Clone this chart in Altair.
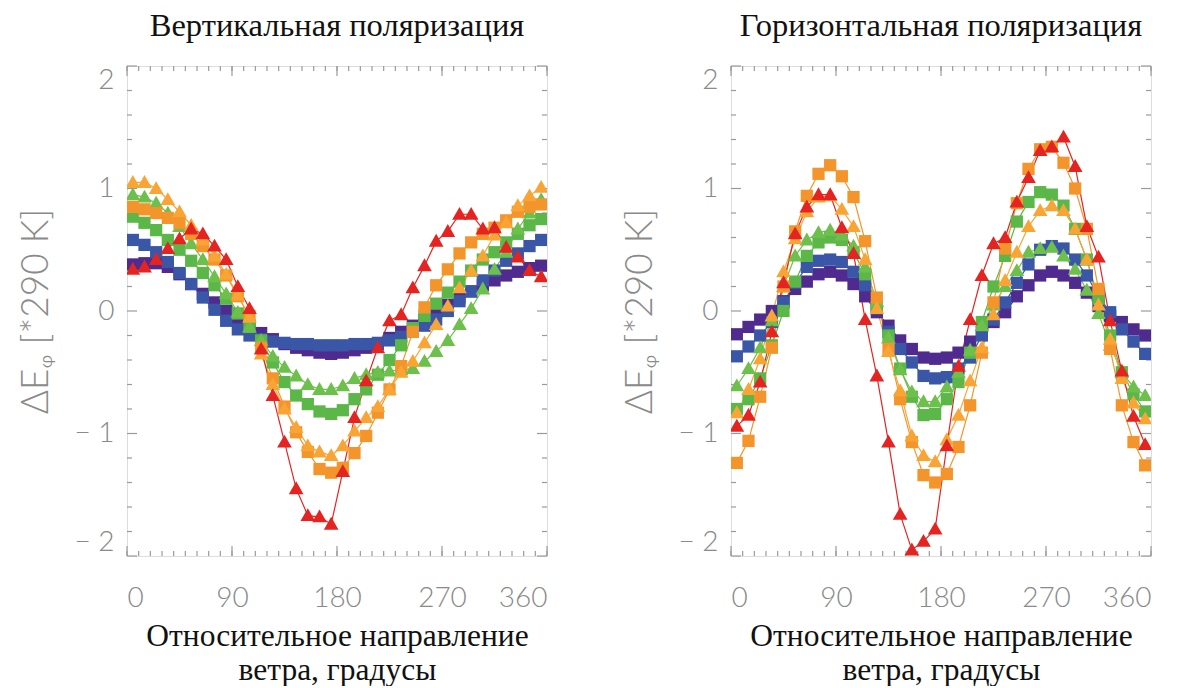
import altair as alt
import pandas as pd

# wind direction bins (degrees)
deg = [5, 15, 25, 35, 45, 55, 65, 75, 85, 95, 105, 115, 125, 135, 145, 155, 165, 175,
       185, 195, 205, 215, 225, 235, 245, 255, 265, 275, 285, 295, 305, 315, 325, 335, 345, 355]

series = ["s1", "s2", "s3", "s4", "s5", "s6", "s7"]
colors = ["#4F2B8F", "#3A57A7", "#5BB848", "#6DC04C", "#F4952C", "#F8A535", "#E42421"]
TRI = "M0,-1.2L1.2,0.9L-1.2,0.9Z"
shapes = ["square", "square", "square", TRI, "square", TRI, TRI]

# ---- vertical polarisation ----
v_s1 = [0.38, 0.39, 0.39, 0.36, 0.30, 0.22, 0.14, 0.07, 0.00, -0.06, -0.12, -0.18, -0.23, -0.27, -0.30, -0.32, -0.34, -0.35,
        -0.34, -0.32, -0.30, -0.27, -0.22, -0.17, -0.12, -0.07, -0.01, 0.05, 0.11, 0.16, 0.21, 0.25, 0.29, 0.32, 0.35, 0.37]
v_s2 = [0.58, 0.54, 0.48, 0.40, 0.31, 0.22, 0.11, 0.01, -0.08, -0.15, -0.20, -0.23, -0.25, -0.26, -0.27, -0.27, -0.28, -0.28,
        -0.28, -0.27, -0.27, -0.26, -0.24, -0.21, -0.17, -0.12, -0.07, 0.00, 0.08, 0.16, 0.25, 0.33, 0.41, 0.47, 0.53, 0.58]
v_s3 = [0.77, 0.72, 0.66, 0.58, 0.50, 0.41, 0.31, 0.21, 0.10, -0.02, -0.13, -0.24, -0.42, -0.58, -0.69, -0.76, -0.82, -0.84,
        -0.81, -0.72, -0.64, -0.52, -0.40, -0.28, -0.14, -0.04, 0.06, 0.15, 0.24, 0.33, 0.42, 0.48, 0.56, 0.63, 0.70, 0.75]
v_s4 = [0.95, 0.93, 0.88, 0.80, 0.69, 0.55, 0.42, 0.28, 0.14, -0.01, -0.13, -0.24, -0.37, -0.46, -0.53, -0.60, -0.64, -0.64,
        -0.61, -0.55, -0.52, -0.50, -0.49, -0.48, -0.47, -0.41, -0.33, -0.24, -0.11, 0.02, 0.18, 0.34, 0.48, 0.67, 0.80, 0.91]
v_s5 = [0.85, 0.83, 0.80, 0.76, 0.72, 0.63, 0.53, 0.42, 0.29, 0.12, -0.04, -0.30, -0.55, -0.78, -0.99, -1.15, -1.29, -1.32,
        -1.28, -1.16, -1.02, -0.83, -0.64, -0.45, -0.17, 0.03, 0.21, 0.34, 0.47, 0.56, 0.63, 0.68, 0.74, 0.81, 0.85, 0.87]
v_s6 = [1.05, 1.05, 1.00, 0.91, 0.81, 0.70, 0.58, 0.45, 0.30, 0.13, -0.05, -0.35, -0.60, -0.80, -0.95, -1.10, -1.15, -1.18,
        -1.10, -0.98, -0.87, -0.78, -0.64, -0.50, -0.41, -0.26, -0.11, 0.04, 0.19, 0.33, 0.45, 0.62, 0.72, 0.86, 0.94, 1.01]
v_s7 = [0.34, 0.36, 0.42, 0.51, 0.59, 0.67, 0.63, 0.53, 0.42, 0.20, 0.02, -0.31, -0.69, -1.07, -1.45, -1.67, -1.68, -1.74,
        -1.31, -0.87, -0.57, -0.30, -0.08, -0.03, 0.19, 0.37, 0.57, 0.65, 0.79, 0.79, 0.67, 0.68, 0.52, 0.44, 0.33, 0.28]

# ---- horizontal polarisation ----
h_s1 = [-0.19, -0.13, -0.07, 0.00, 0.08, 0.18, 0.24, 0.30, 0.32, 0.29, 0.22, 0.12, -0.01, -0.12, -0.24, -0.31, -0.38, -0.39,
        -0.38, -0.34, -0.25, -0.17, -0.09, -0.01, 0.12, 0.21, 0.29, 0.32, 0.29, 0.23, 0.15, 0.04, -0.04, -0.09, -0.15, -0.20]
h_s2 = [-0.37, -0.29, -0.20, -0.09, 0.07, 0.23, 0.36, 0.41, 0.42, 0.40, 0.32, 0.21, 0.02, -0.17, -0.31, -0.42, -0.53, -0.55,
        -0.54, -0.47, -0.38, -0.20, -0.07, 0.07, 0.23, 0.38, 0.50, 0.53, 0.51, 0.42, 0.29, 0.12, -0.01, -0.15, -0.25, -0.35]
h_s3 = [-0.80, -0.72, -0.55, -0.28, 0.00, 0.24, 0.45, 0.56, 0.60, 0.58, 0.48, 0.30, 0.03, -0.20, -0.47, -0.70, -0.85, -0.84,
        -0.72, -0.58, -0.34, -0.09, 0.20, 0.45, 0.73, 0.89, 0.97, 0.95, 0.86, 0.67, 0.42, 0.10, -0.20, -0.50, -0.68, -0.82]
h_s4 = [-0.61, -0.47, -0.30, -0.08, 0.20, 0.45, 0.58, 0.64, 0.66, 0.62, 0.53, 0.36, 0.08, -0.22, -0.48, -0.66, -0.74, -0.74,
        -0.62, -0.50, -0.32, -0.12, 0.05, 0.20, 0.33, 0.48, 0.51, 0.52, 0.45, 0.34, 0.17, -0.02, -0.28, -0.50, -0.62, -0.69]
h_s5 = [-1.24, -1.06, -0.70, -0.30, 0.20, 0.65, 0.94, 1.12, 1.19, 1.10, 0.93, 0.57, 0.11, -0.31, -0.72, -1.07, -1.34, -1.40,
        -1.33, -1.11, -0.77, -0.34, 0.07, 0.51, 0.88, 1.16, 1.32, 1.34, 1.21, 1.00, 0.67, 0.18, -0.31, -0.77, -1.07, -1.26]
h_s6 = [-0.83, -0.64, -0.39, -0.04, 0.32, 0.59, 0.81, 0.93, 0.94, 0.83, 0.69, 0.42, 0.02, -0.33, -0.65, -1.02, -1.18, -1.23,
        -1.05, -0.85, -0.57, -0.30, -0.03, 0.25, 0.48, 0.69, 0.82, 0.86, 0.82, 0.67, 0.42, 0.05, -0.23, -0.55, -0.75, -0.88]
h_s7 = [-0.94, -0.85, -0.58, -0.17, 0.23, 0.63, 0.85, 0.95, 0.95, 0.68, 0.47, -0.07, -0.53, -1.07, -1.66, -1.95, -1.88, -1.78,
        -1.10, -0.45, -0.07, 0.29, 0.55, 0.60, 0.89, 1.09, 1.31, 1.34, 1.42, 1.18, 0.69, 0.44, -0.08, -0.49, -0.86, -1.09]

# axis ticks
x_major = [0, 90, 180, 270, 360]
x_minor = [0, 10, 20, 30, 40, 50, 60, 70, 80, 90, 100, 110, 120, 130, 140, 150, 160, 170, 180,
           190, 200, 210, 220, 230, 240, 250, 260, 270, 280, 290, 300, 310, 320, 330, 340, 350, 360]
y_major = [-2, -1, 0, 1, 2]
y_minor = [-1.8, -1.6, -1.4, -1.2, -0.8, -0.6, -0.4, -0.2, 0.2, 0.4, 0.6, 0.8, 1.2, 1.4, 1.6, 1.8]

title_v = "Вертикальная поляризация"
title_h = "Горизонтальная поляризация"
x_title = ["Относительное направление", "ветра, градусы"]
y_title = "ΔEᵩ [*290 K]"

W, H = 420, 490
GRAY = "#9a9a9a"
LABEL = "#8a8a8a"


def long_df(vals):
    rows = []
    for s, v in zip(series, vals):
        for d, y in zip(deg, v):
            rows.append({"deg": d, "val": y, "series": s})
    return pd.DataFrame(rows)


def panel(title, vals):
    df = long_df(vals)
    x_enc = alt.X("deg:Q", scale=alt.Scale(domain=[0, 360], nice=False, zero=False),
                  axis=alt.Axis(values=x_major, ticks=False, domain=False, grid=False,
                                labelFontSize=28, labelColor=LABEL, labelFont="Lato",
                                labelFontWeight=300, labelPadding=28,
                                title=x_title, titleFont="Liberation Serif", titleFontSize=31.5,
                                titleFontWeight="normal", titleColor="#111111",
                                titlePadding=8, titleLineHeight=34))
    y_enc = alt.Y("val:Q", scale=alt.Scale(domain=[-2, 2], nice=False, zero=False),
                  axis=alt.Axis(values=y_major, ticks=False, domain=False, grid=False,
                                labelFlush=True, labelFontSize=28, labelColor=LABEL,
                                labelFont="Lato", labelFontWeight=300, labelPadding=13,
                                labelExpr="datum.value < 0 ? '\u2212 ' + (-datum.value) : '' + datum.value",
                                title=y_title, titleFont="Lato", titleFontSize=37,
                                titleFontWeight=300, titleColor=LABEL, titlePadding=18))
    color = alt.Color("series:N", scale=alt.Scale(domain=series, range=colors), legend=None)
    shape = alt.Shape("series:N", scale=alt.Scale(domain=series, range=shapes), legend=None)

    base = alt.Chart(df)
    lines = base.mark_line(strokeWidth=1.2, clip=True).encode(
        x=x_enc, y=y_enc, color=color, detail="series:N")
    pts = base.mark_point(filled=True, opacity=1, size=150, clip=True).encode(
        x=x_enc, y=y_enc, color=color, shape=shape)

    xmin = pd.DataFrame({"deg": x_minor})
    xmaj = pd.DataFrame({"deg": x_major})
    ymin = pd.DataFrame({"val": y_minor})
    ymaj = pd.DataFrame({"val": y_major})

    def xt(d, ln, top):
        if top:
            return alt.Chart(d).mark_rule(color=GRAY, strokeWidth=1.2).encode(
                x=x_enc, y=alt.value(0), y2=alt.value(ln))
        return alt.Chart(d).mark_rule(color=GRAY, strokeWidth=1.2).encode(
            x=x_enc, y=alt.value(H), y2=alt.value(H - ln))

    def yt(d, ln, right):
        if right:
            return alt.Chart(d).mark_rule(color=GRAY, strokeWidth=1.2).encode(
                y=y_enc, x=alt.value(W), x2=alt.value(W - ln))
        return alt.Chart(d).mark_rule(color=GRAY, strokeWidth=1.2).encode(
            y=y_enc, x=alt.value(0), x2=alt.value(ln))

    ticks = [xt(xmin, 5, False), xt(xmaj, 10, False), xt(xmin, 5, True), xt(xmaj, 10, True),
             yt(ymin, 5, False), yt(ymaj, 10, False), yt(ymin, 5, True), yt(ymaj, 10, True)]

    return alt.layer(*ticks, lines, pts).properties(
        width=W, height=H,
        title=alt.TitleParams(title, font="Liberation Serif", fontSize=32.5, fontWeight="normal",
                              color="#111111", offset=23, anchor="middle"))


chart = alt.hconcat(panel(title_v, [v_s1, v_s2, v_s3, v_s4, v_s5, v_s6, v_s7]),
                    panel(title_h, [h_s1, h_s2, h_s3, h_s4, h_s5, h_s6, h_s7]),
                    spacing=72).properties(
    padding={"left": 17, "top": 9, "right": 0, "bottom": 0}
).configure_view(stroke=GRAY, strokeWidth=1.5).configure(background="white")

chart.save("out.html", embed_options={"renderer": "svg", "actions": False})
